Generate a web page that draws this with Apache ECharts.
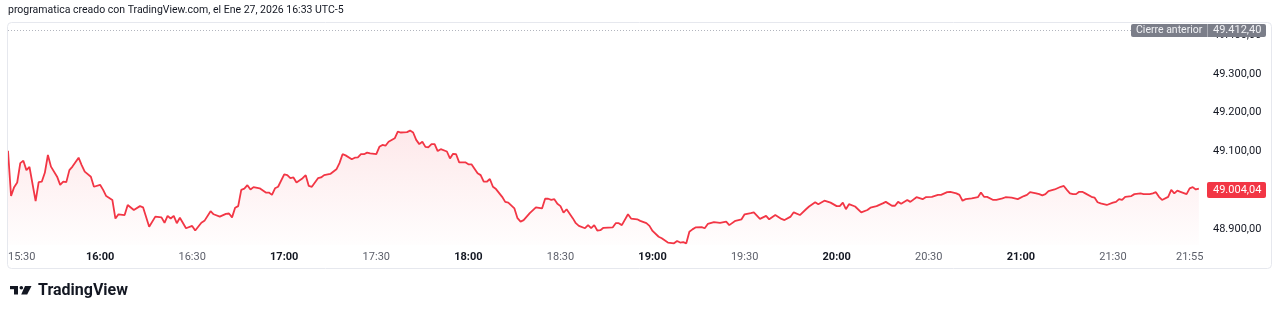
<!DOCTYPE html>
<html>
<head>
<meta charset="utf-8">
<script src="https://cdn.jsdelivr.net/npm/echarts@6/dist/echarts.min.js"></script>
<style>
html,body{margin:0;padding:0;background:#ffffff;}
#c{width:1280px;height:315px;}
</style>
</head>
<body>
<div id="c"></div>
<script>
// ---------------- data ----------------
const titleText = "programatica creado con TradingView.com, el Ene 27, 2026 16:33 UTC-5";
const brandText = "TradingView";
const startTime = "15:30";
// minutes elapsed since 15:30
const elapsedMin = [
  0,1,2,3,4,5,6,7,9,10,
  11,12,13,14,16,17,18,19,20,21,
  23,24,25,27,28,30,31,32,34,35,
  36,38,39,41,43,44,46,48,50,51,
  52,53,54,55,56,58,60,61,63,64,
  66,67,69,71,72,73,74,75,76,77,
  78,79,80,82,84,85,86,87,88,90,
  91,92,93,94,96,97,98,99,101,102,
  103,105,107,108,109,110,112,113,114,115,
  116,117,118,120,121,122,123,124,126,127,
  128,130,131,132,133,134,135,136,137,138,
  139,140,141,143,144,145,146,147,149,150,
  151,153,154,155,156,157,158,159,161,162,
  163,165,166,167,168,170,172,174,175,176,
  177,178,179,180,181,182,184,185,186,188,
  189,190,191,192,193,194,197,198,199,200,
  202,203,205,206,208,209,210,212,213,215,
  217,218,219,220,221,222,223,224,226,227,
  228,230,232,234,235,237,239,240,242,243,
  245,247,248,250,252,253,255,256,258,260,
  261,263,264,266,268,270,271,272,273,274,
  276,278,280,281,283,285,286,288,289,290,
  291,293,294,296,298,299,301,303,304,306,
  307,309,310,311,312,314,316,317,318,319,
  321,322,324,325,327,329,331,332,333,335,
  336,337,338,339,341,343,344,345,346,347,
  348,349,350,351,353,354,355,356,358,360,
  361,362,363,364,366,367,369,370,372,373,
  374,375,376,378,379,380,381,382,384,385,
  386,387,388
];
const prices = [
  49102,48985,49008,49020,49070,49076,49052,49060,48972,49021,
  49022,49045,49091,49061,49035,49014,49022,49021,49052,49061,
  49084,49065,49048,49035,49009,49014,49001,48985,48975,48927,
  48938,48936,48962,48949,48959,48956,48906,48932,48930,48916,
  48934,48927,48934,48915,48929,48902,48908,48896,48916,48921,
  48946,48938,48932,48939,48940,48930,48955,48959,49001,49004,
  49013,49002,49008,49005,48994,48994,48988,49005,49009,49041,
  49039,49031,49033,49020,49031,49039,49011,49009,49031,49033,
  49039,49042,49054,49070,49093,49090,49080,49084,49085,49093,
  49093,49097,49095,49093,49112,49117,49115,49125,49134,49151,
  49149,49150,49154,49149,49130,49119,49125,49112,49111,49119,
  49119,49101,49106,49100,49082,49094,49093,49072,49072,49067,
  49067,49044,49039,49022,49022,49029,49009,49003,48983,48970,
  48968,48953,48928,48919,48923,48941,48956,48953,48978,48978,
  48975,48977,48965,48959,48942,48951,48928,48915,48908,48902,
  48910,48902,48910,48896,48897,48903,48904,48915,48915,48910,
  48938,48927,48925,48921,48915,48908,48895,48880,48876,48865,
  48863,48869,48865,48866,48863,48893,48899,48904,48905,48902,
  48913,48918,48916,48919,48910,48921,48925,48938,48941,48943,
  48926,48934,48925,48936,48926,48923,48932,48943,48936,48951,
  48958,48969,48964,48973,48968,48959,48959,48968,48951,48964,
  48958,48943,48949,48955,48959,48966,48970,48960,48960,48970,
  48965,48975,48970,48982,48977,48982,48983,48988,48988,48995,
  48996,48992,48988,48973,48977,48979,48982,48994,48983,48983,
  48975,48975,48979,48982,48981,48977,48985,48988,48995,48992,
  48990,48987,48990,48998,49002,49009,49011,49001,48992,48990,
  48990,48996,48996,48992,48983,48981,48969,48966,48962,48968,
  48970,48977,48975,48983,48985,48990,48992,48990,48990,48992,
  48995,48983,48975,48983,49001,48992,48999,48996,48990,49005,
  49008,49002,49004.04
];
const timeTicks = ["15:30","16:00","16:30","17:00","17:30","18:00","18:30","19:00","19:30","20:00","20:30","21:00","21:30","21:55"];
const sessionEnd = "22:00";
const priceTicks = [48900, 49000, 49100, 49200, 49300, 49400];
const prevCloseLabel = "Cierre anterior";
const prevClose = 49412.40;
const lastPrice = 49004.04;

// ---------------- helpers ----------------
function toMin(s){ const [h,m] = s.split(':').map(Number); return h*60+m; }
const t0 = toMin(startTime);
function relMin(s){ return toMin(s) - t0; }
function fmtPrice(v){
  const s = v.toFixed(2); const p = s.split('.');
  return p[0].replace(/\B(?=(\d{3})+(?!\d))/g, '.') + ',' + p[1];
}
const tickMins = timeTicks.map(relMin);
const lineData = elapsedMin.map((m,i) => [m, prices[i]]);

const FONT = 'Roboto, "Noto Sans", sans-serif';
const RED = '#F23645';

const chart = echarts.init(document.getElementById('c'), null, {renderer:'canvas'});
const gridTop = 22, gridBottomPx = 245, gridLeft = 8, gridRightPx = 1205;

chart.setOption({
  animation: false,
  backgroundColor: '#ffffff',
  textStyle: {fontFamily: FONT},
  grid: {left: gridLeft, right: 1280 - gridRightPx, top: gridTop, bottom: 315 - gridBottomPx},
  xAxis: {
    type: 'value',
    min: 0,
    max: relMin(sessionEnd),
    axisLine: {show: false},
    axisTick: {show: false},
    splitLine: {show: false},
    axisLabel: {
      customValues: tickMins,
      alignMinLabel: 'left',
      margin: 7,
      fontSize: 11,
      fontFamily: FONT,
      color: '#5d606b',
      formatter: function(v){
        const idx = tickMins.indexOf(Math.round(v));
        const s = idx >= 0 ? timeTicks[idx] : '';
        return s.endsWith(':00') ? '{b|' + s + '}' : s;
      },
      rich: {b: {fontWeight: 'bold', color: '#131722', fontSize: 11, fontFamily: FONT}}
    }
  },
  yAxis: {
    type: 'value',
    position: 'right',
    min: 48858.7,
    max: 49434.2,
    axisLine: {show: false},
    axisTick: {show: false},
    splitLine: {show: false},
    axisLabel: {
      customValues: priceTicks,
      margin: 8,
      align: 'left',
      fontSize: 11,
      fontFamily: FONT,
      color: '#131722',
      formatter: v => fmtPrice(v)
    }
  },
  series: [{
    type: 'line',
    data: lineData,
    showSymbol: false,
    symbol: 'none',
    lineStyle: {color: RED, width: 1.8},
    itemStyle: {color: RED},
    areaStyle: {
      color: new echarts.graphic.LinearGradient(0, 0, 0, 1, [
        {offset: 0, color: 'rgba(242,54,69,0.16)'},
        {offset: 1, color: 'rgba(242,54,69,0.01)'}
      ])
    },
    markLine: {
      silent: true,
      symbol: 'none',
      label: {show: false},
      lineStyle: {color: '#b2b5be', type: [1, 2], width: 1},
      data: [{yAxis: prevClose}]
    },
    z: 3
  }]
});

const yPrev = chart.convertToPixel({yAxisIndex: 0}, prevClose);
const yLast = chart.convertToPixel({yAxisIndex: 0}, lastPrice);

chart.setOption({
  graphic: [
    {type: 'rect', z: 50, silent: true,
      shape: {x: 7.5, y: 22.5, width: 1264, height: 246, r: 4},
      style: {fill: 'none', stroke: '#e6e8ee', lineWidth: 1}},
    {type: 'text', z: 50, left: 8, top: 5,
      style: {text: titleText, font: '10.5px ' + FONT, fill: '#131722'}},
    // previous close label
    {type: 'rect', z: 100, shape: {x: 1131, y: Math.round(yPrev) - 6, width: 135, height: 13, r: 2},
      style: {fill: '#7b7e89'}},
    {type: 'rect', z: 101, shape: {x: 1207, y: Math.round(yPrev) - 6, width: 1, height: 13},
      style: {fill: '#a9abb3'}},
    {type: 'text', z: 102, x: 1136, y: Math.round(yPrev) + 0.5,
      style: {text: prevCloseLabel, font: '10.5px ' + FONT, fill: '#f0f1f4', textVerticalAlign: 'middle'}},
    {type: 'text', z: 102, x: 1213, y: Math.round(yPrev) + 0.5,
      style: {text: fmtPrice(prevClose), font: '11px ' + FONT, fill: '#f0f1f4', textVerticalAlign: 'middle'}},
    // last price label
    {type: 'rect', z: 100, shape: {x: 1207, y: Math.round(yLast) - 7, width: 59, height: 16, r: 2},
      style: {fill: RED}},
    {type: 'text', z: 102, x: 1213, y: Math.round(yLast) + 1,
      style: {text: fmtPrice(lastPrice), font: '11px ' + FONT, fill: '#ffffff', textVerticalAlign: 'middle'}},
    // logo
    {type: 'rect', z: 50, shape: {x: 10, y: 286, width: 8, height: 3.2}, style: {fill: '#131722'}},
    {type: 'rect', z: 50, shape: {x: 14, y: 286, width: 4, height: 8.5}, style: {fill: '#131722'}},
    {type: 'circle', z: 50, shape: {cx: 21.3, cy: 287.7, r: 1.8}, style: {fill: '#131722'}},
    {type: 'polygon', z: 50, shape: {points: [[25, 286], [31.5, 286], [27.2, 294.5], [21.2, 294.5]]}, style: {fill: '#131722'}},
    {type: 'text', z: 50, x: 38, y: 291,
      style: {text: brandText, font: 'bold 16px ' + FONT, fill: '#131722', textVerticalAlign: 'middle'}}
  ]
});
</script>
</body>
</html>
